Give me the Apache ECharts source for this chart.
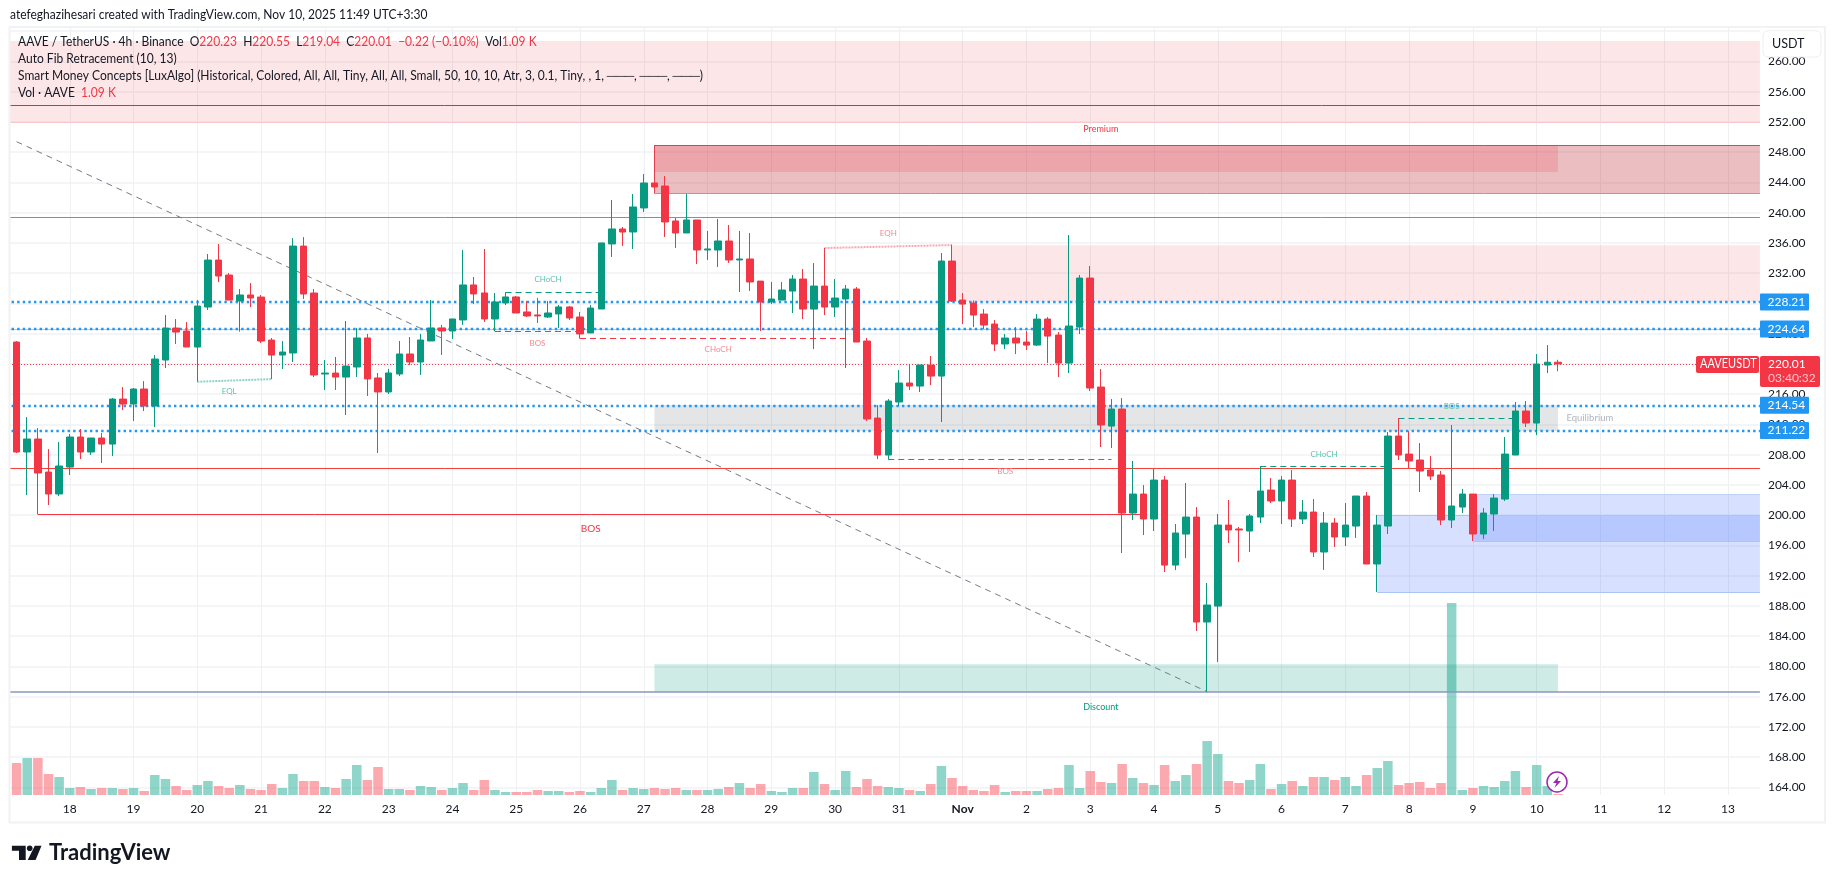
<!DOCTYPE html>
<html><head><meta charset="utf-8">
<style>html,body{margin:0;padding:0;background:#fff}#c{width:1835px;height:883px}</style>
<script src="https://cdn.jsdelivr.net/npm/echarts@6/dist/echarts.min.js"></script>
</head><body><div id="c"></div>
<script>
const dayLabels=['17','18','19','20','21','22','23','24','25','26','27','28','29','30','31','Nov','2','3','4','5','6','7','8','9','10','11','12','13'];
const opens=[222.90,208.36,210.08,205.71,202.81,206.37,210.34,208.36,210.21,209.41,215.36,214.70,216.69,214.44,220.52,224.75,224.35,222.24,227.53,233.74,231.76,228.32,229.12,228.85,223.16,221.18,221.45,235.59,229.38,218.67,218.80,218.27,219.60,223.44,218.15,216.30,218.68,221.32,220.26,223.04,224.76,224.36,225.82,230.45,229.39,225.95,228.07,228.86,226.88,226.48,226.21,226.61,227.54,226.21,224.10,227.27,235.87,237.85,237.45,240.63,243.93,243.53,238.91,237.32,239.04,235.07,235.07,236.26,233.75,233.88,230.96,228.19,228.45,229.64,231.23,227.26,230.30,227.53,228.59,229.91,223.03,212.85,207.96,214.97,217.48,217.08,219.86,218.40,233.61,228.45,228.06,226.60,225.28,222.64,223.43,222.90,222.50,225.94,223.82,220.12,224.88,231.36,216.95,211.79,214.04,200.29,202.80,199.50,204.65,193.41,197.51,199.76,185.88,187.99,198.70,198.18,197.91,199.76,203.33,201.88,204.65,199.50,200.42,195.14,198.97,197.12,198.57,202.54,193.55,198.57,210.47,208.09,207.30,205.98,205.32,199.37,201.08,202.80,197.52,200.16,202.14,207.96,213.78,212.19,219.86,220.23];
const closes=[208.36,210.08,205.58,202.81,206.51,210.34,208.36,210.21,209.41,215.36,214.70,216.69,214.44,220.65,224.75,224.22,222.24,227.66,233.74,231.63,228.45,229.12,228.72,223.03,221.18,221.58,235.59,229.25,218.54,218.80,218.27,219.73,223.44,218.02,216.30,218.81,221.32,220.26,223.17,224.76,224.36,225.95,230.45,229.26,225.95,228.20,228.86,226.74,226.35,226.35,226.74,227.54,226.08,223.97,227.40,236.00,237.85,237.45,240.76,243.93,243.40,238.78,237.32,239.04,235.07,235.21,236.26,233.75,233.88,230.84,228.19,228.59,229.78,231.23,227.26,230.30,227.53,228.72,229.91,222.90,212.72,207.96,215.10,217.48,217.08,219.86,218.40,233.61,228.32,227.92,226.47,225.15,222.64,223.43,222.77,222.50,225.94,223.69,220.12,225.02,231.36,216.82,211.93,214.04,200.29,202.80,199.50,204.65,193.41,197.65,199.76,185.88,188.13,198.70,198.05,198.05,199.90,203.20,201.88,204.65,199.50,200.42,195.14,198.97,197.12,198.70,202.54,193.55,198.70,210.47,207.96,207.17,205.85,205.18,199.37,201.22,202.80,197.52,200.29,202.27,208.09,213.78,212.19,219.99,220.23,220.01];
const highs=[223.03,212.98,211.53,208.75,209.68,210.74,211.40,210.21,210.87,215.50,216.95,216.82,217.74,221.18,226.47,225.94,225.54,228.45,234.54,235.86,232.02,229.91,230.70,229.12,223.43,223.03,236.65,236.78,229.91,220.52,220.92,225.68,224.76,223.97,218.81,219.34,223.04,223.57,223.97,228.46,225.16,225.95,235.07,231.50,235.20,229.39,229.48,228.99,228.33,228.73,228.33,227.80,227.67,226.88,227.80,236.00,241.68,238.11,242.48,245.12,244.10,244.86,239.30,242.48,239.04,237.59,239.17,238.38,237.59,237.32,230.96,230.83,230.83,231.76,232.55,233.34,235.33,231.23,230.44,230.17,223.43,214.57,215.36,219.20,219.86,219.86,221.05,234.67,235.72,229.38,228.40,227.26,225.81,223.96,224.88,224.36,226.60,226.20,224.22,237.05,231.76,232.95,219.33,215.36,215.49,207.17,203.99,206.11,205.18,198.84,204.26,201.08,191.04,200.16,202.01,198.44,200.16,206.51,204.92,205.18,205.98,202.01,202.14,200.42,199.63,201.61,202.54,203.07,200.03,211.00,212.85,211.13,209.55,207.83,205.85,211.93,203.47,202.80,200.95,202.80,210.34,214.97,215.10,221.31,222.50,220.55];
const lows=[208.22,202.67,200.12,201.35,202.54,205.32,207.43,207.96,206.90,207.83,213.91,212.46,213.78,211.66,219.46,222.64,222.24,217.66,227.13,230.83,228.45,224.27,227.53,222.77,218.01,219.33,220.26,228.59,218.27,216.56,216.56,213.25,218.28,215.77,208.23,216.03,218.41,219.87,218.55,223.04,221.19,223.31,225.16,227.93,225.55,224.32,227.80,226.74,226.21,225.42,226.08,224.76,225.82,223.35,224.10,227.27,234.15,235.60,235.20,240.10,243.20,236.79,235.33,237.32,233.22,233.75,232.83,233.36,229.52,229.65,224.35,227.92,228.45,226.73,225.94,221.97,226.47,226.21,219.46,222.90,212.45,207.43,207.39,214.44,216.55,216.29,217.21,212.32,228.19,225.28,224.88,224.62,221.71,221.97,221.31,221.84,222.37,220.12,218.27,218.80,223.96,216.42,209.02,208.88,195.00,199.36,197.38,197.91,192.49,192.75,194.34,184.69,176.67,180.59,196.33,193.81,195.14,198.97,201.61,198.84,198.44,198.84,194.48,192.76,195.80,195.93,196.99,193.55,189.85,197.52,207.30,206.24,203.07,204.65,198.70,198.31,200.29,196.59,196.85,197.91,201.88,207.96,211.66,210.60,218.80,219.04];
const volumes=[32,37,37,21,18,7,8,6,7,7,6,7,4,20,16,9,5,10,14,9,7,10,6,5,11,7,21,14,14,8,7,16,30,15,28,6,6,5,9,8,5,7,12,5,15,5,3,3,3,5,4,4,3,4,3,7,15,5,7,6,7,6,7,5,5,5,6,8,12,7,11,4,3,7,7,23,11,5,24,8,16,9,8,7,5,4,11,29,17,9,5,4,10,3,4,4,4,6,7,30,7,24,13,12,31,17,12,10,30,14,20,31,54,41,14,12,15,31,6,11,14,9,18,18,15,18,9,20,27,34,10,12,13,7,12,192,5,7,9,8,14,24,8,30,9,1];
const priceTicks={min:164,max:264,step:4};
const fibLevels=[228.21,224.64,214.54,211.22];
const lastPrice=220.01;
const premiumZone=[262.7,252.0];
const supplyZone=[248.95,242.56];
const supplyInner=[248.95,245.38];
const shortZone=[235.7,228.2];
const eqZone=[214.57,211.13];
const discountZone=[180.3,176.67];
const demandZone=[200.03,189.8];
const demandInner=[202.8,196.55];
const notes=[['Premium',103,251.07,'#f23645',9],['Discount',103,174.64,'#089981',9],['Equilibrium',149,212.85,'#b2b5be',9.5],['BOS',55,198.18,'#f23645',10],['EQL',21,216.33,'#5fc2b2',8],['EQH',83,237.32,'#f58a93',8],['CHoCH',51,231.23,'#5fc2b2',8],['BOS',50,222.77,'#f58a93',8],['CHoCH',67,221.98,'#f58a93',8],['BOS',94,205.84,'#f58a93',8],['CHoCH',124,208.09,'#5fc2b2',8],['BOS',136,214.44,'#5fc2b2',8]];
const structure=[[18,217.65,25,218.0,'eql'],[77,235.33,89,235.72,'eqh'],[47,229.48,56,229.48,'up'],[46,224.32,54,224.32,'down'],[54,223.39,79,223.39,'down'],[83,207.39,104,207.39,'down'],[118,206.5,130,206.5,'up'],[131,212.81,142,212.81,'up'],[3,200.14,107,200.14,'solid'],[1,249.39,113,176.67,'fib']];

const UP='#089981',DOWN='#F23645',FONT='Lato, "Open Sans", sans-serif',INK='#131722';
const slots=[];dayLabels.forEach(d=>{for(let h=0;h<6;h++)slots.push(h===0?d:d+'#'+h)});
const categories=slots.slice(0,166);
const candleData=[['-','-','-','-']].concat(opens.map((o,i)=>[o,closes[i],lows[i],highs[i]]));
const volData=['-'].concat(volumes.map((v,i)=>({value:v,itemStyle:{color:closes[i]>=opens[i]?'rgba(34,171,148,0.5)':'rgba(247,82,95,0.5)'}})));
const isDay=i=>i%6===0&&i>0;
const styles={eql:{color:'#8ed2c6',width:2,type:[2,1]},eqh:{color:'#f9a7ae',width:2,type:[2,1]},up:{color:UP,width:1,type:[6,4]},down:{color:DOWN,width:1,type:[6,4]},solid:{color:'#f23645',width:1,type:'solid'},fib:{color:'#787b86',width:1,type:[6,5]}};
const area=(a,b,r,fill)=>[{coord:[a,r[0]],itemStyle:{color:fill,borderWidth:0}},{coord:[b,r[1]]}];
const hline=(y,color,width,type)=>({yAxis:y,lineStyle:{color,width,type:type||'solid'},label:{show:false}});
const seg=(a,p,b,q,color,width)=>[{coord:[a,p],lineStyle:{color,width:width||1,type:'solid'},label:{show:false}},{coord:[b,q]}];

const chart=echarts.init(document.getElementById('c'),null,{renderer:'canvas'});
const G_LEFT=5.97,G_W=1753.95;
const option={
 backgroundColor:'#fff',animation:false,
 grid:[{left:G_LEFT,top:31.2,width:G_W,height:756.3},{left:G_LEFT,top:28,width:G_W,height:767}],
 xAxis:[
  {type:'category',gridIndex:0,data:categories,boundaryGap:false,show:false},
  {type:'category',gridIndex:1,data:categories,boundaryGap:false,axisLine:{show:false},axisTick:{show:false},
   splitLine:{show:true,interval:(i)=>isDay(i),lineStyle:{color:'#eef0f2',width:1}},
   axisLabel:{show:true,interval:(i)=>isDay(i),formatter:v=>v.split('#')[0]==='Nov'?'{b|Nov}':v.split('#')[0],margin:8,color:INK,fontFamily:FONT,fontSize:12,rich:{b:{fontWeight:'bold',fontFamily:FONT,fontSize:12,color:INK}}}}
 ],
 yAxis:[
  {type:'value',gridIndex:0,position:'right',min:priceTicks.min,max:priceTicks.max,interval:priceTicks.step,axisLine:{show:false},axisTick:{show:false},
   splitLine:{show:true,lineStyle:{color:'#f1f2f3',width:1.5}},
   axisLabel:{formatter:v=>v.toFixed(2),margin:8,color:INK,fontFamily:FONT,fontSize:12,align:'left'}},
  {type:'value',gridIndex:1,min:0,max:767,show:false}
 ],
 series:[
  {type:'bar',name:'Vol',xAxisIndex:1,yAxisIndex:1,data:volData,barWidth:9.5,z:1,silent:true},
  {type:'line',name:'overlays',xAxisIndex:0,yAxisIndex:0,data:[],z:2,silent:true,symbol:'none',
   markArea:{silent:true,z:2,data:[
     area(0,165,premiumZone,'rgba(242,54,69,0.125)'),
     area(61,165,supplyZone,'rgba(190,40,51,0.30)'),
     area(61,146,supplyInner,'rgba(242,54,69,0.18)'),
     area(89,165,shortZone,'rgba(242,54,69,0.125)'),
     area(61,146,eqZone,'rgba(120,123,134,0.20)'),
     area(61,146,discountZone,'rgba(8,153,129,0.20)'),
     area(129,165,demandZone,'rgba(41,98,255,0.19)'),
     area(138,165,demandInner,'rgba(41,98,255,0.19)')
   ]},
   markLine:{silent:true,symbol:'none',z:3,animation:false,data:[
     hline(254.2,'#26807a',1),
     hline(239.4,'#5fae62',1),
     hline(224.57,'#a9d6ab',1),
     hline(206.2,'#f44336',1),
     hline(176.62,'#8a96bd',1.5),
     hline(lastPrice,DOWN,1,[1,2]),
     hline(premiumZone[1],'#f6c9cc',1),
     ...fibLevels.map(y=>hline(y,'#2196F3',2.4,[2.4,3.2])),
     seg(61,supplyZone[0],165,supplyZone[0],'#e0414f'),
     seg(61,supplyZone[1],165,supplyZone[1],'#d9868c'),
     seg(61,supplyZone[0],61,supplyZone[1],'#e0414f'),
     seg(129,demandZone[0],165,demandZone[0],'#a9c5f5'),
     seg(129,demandZone[1],165,demandZone[1],'#a9c5f5'),
     seg(138,demandInner[0],165,demandInner[0],'#bcd2f8'),
     seg(138,demandInner[1],165,demandInner[1],'#a9c5f5'),
     ...structure.map(s=>[{coord:[s[0],s[1]],lineStyle:styles[s[4]],label:{show:false}},{coord:[s[2],s[3]]}])
   ]},
   markPoint:{silent:true,z:6,symbol:'circle',symbolSize:0,animation:false,data:notes.map(n=>({coord:[n[1],n[2]],label:{show:true,position:'inside',formatter:n[0],color:n[3],fontSize:n[4],fontFamily:FONT}}))}
  },
  {type:'candlestick',name:'AAVEUSDT',xAxisIndex:0,yAxisIndex:0,data:candleData,barWidth:7,z:5,silent:true,
   itemStyle:{color:UP,color0:DOWN,borderColor:UP,borderColor0:DOWN,borderWidth:1}}
 ]
};
chart.setOption(option);

const yOf=p=>chart.convertToPixel({yAxisIndex:0},p);
const T=(x,y,text,o,sx)=>({type:'text',x,y,z:120,scaleX:sx||1,style:Object.assign({text,fill:INK,font:'13px '+FONT,textVerticalAlign:'middle'},o||{})});
const R=(x,y,w,h,fill,r,stroke,z)=>({type:'rect',z:z||110,shape:{x,y,width:w,height:h,r:r||0},style:{fill,stroke:stroke||null,lineWidth:stroke?1:0}});
const HS=0.925;
const gfx=[
 R(0,0,9,883,'#fff',0,null,100),
 R(1762,18,60,14,'#fff',0,null,100),
 {type:'rect',z:105,shape:{x:9.5,y:27,width:1815.5,height:795.5},style:{fill:null,stroke:'#f1f2f4',lineWidth:2}},
 T(10,15,'atefeghazihesari created with TradingView.com, Nov 10, 2025 11:49 UTC+3:30',null,HS),
 {type:'text',x:18,y:41.7,z:120,scaleX:HS,style:{text:'AAVE / TetherUS · 4h · Binance  O{r|220.23}  H{r|220.55}  L{r|219.04}  C{r|220.01}  {r|−0.22 (−0.10%)}  Vol{r|1.09 K}',fill:INK,font:'13px '+FONT,textVerticalAlign:'middle',rich:{r:{fill:DOWN,font:'13px '+FONT}}}},
 T(18,59,'Auto Fib Retracement (10, 13)',null,HS),
 T(18,76,'Smart Money Concepts [LuxAlgo] (Historical, Colored, All, All, Tiny, All, All, Small, 50, 10, 10, Atr, 3, 0.1, Tiny, , 1, ───, ───, ───)',null,HS),
 {type:'text',x:18,y:92.7,z:120,scaleX:HS,style:{text:'Vol · AAVE  {r|1.09 K}',fill:INK,font:'13px '+FONT,textVerticalAlign:'middle',rich:{r:{fill:DOWN,font:'13px '+FONT}}}},
 R(1763,30.7,58,26.3,'#fff',5,'#eeeff1'),
 T(1772,44,'USDT',{font:'12.5px '+FONT}),
 {type:'circle',z:120,shape:{cx:1557,cy:782,r:10},style:{fill:'#fff',stroke:'#9c27b0',lineWidth:1.5}},
 {type:'polygon',z:121,shape:{points:[[1559,776],[1553,783],[1556.5,783],[1554.5,788],[1561,781],[1557.5,781]]},style:{fill:'#9c27b0'}},
 {type:'polygon',z:120,shape:{points:[[11.9,845.7],[25.7,845.7],[25.7,860],[19,860],[19,850.7],[11.9,850.7]]},style:{fill:INK}},
 {type:'circle',z:120,shape:{cx:29.7,cy:848.2,r:2.8},style:{fill:INK}},
 {type:'polygon',z:120,shape:{points:[[34.8,845.7],[41.5,845.7],[35.6,860],[27.7,860]]},style:{fill:INK}},
 T(49,853,'TradingView',{font:'bold 22px '+FONT})
];
fibLevels.forEach(p=>{const y=yOf(p);gfx.push(R(1760,y-8.5,49,17,'#2196F3',1));gfx.push(T(1767.5,y,p.toFixed(2),{fill:'#fff',font:'12px '+FONT}));});
{const y=yOf(lastPrice);
 gfx.push(R(1760,y-8,60,31,DOWN,2));
 gfx.push(T(1768,y,lastPrice.toFixed(2),{fill:'#fff',font:'12px '+FONT}));
 gfx.push(T(1768,y+14.5,'03:40:32',{fill:'#fbc5ca',font:'12px '+FONT}));
 gfx.push(R(1696,y-8,63,17,DOWN,2));
 gfx.push(T(1700,y,'AAVEUSDT',{fill:'#fff',font:'12.5px '+FONT},0.88));}
chart.setOption({graphic:{elements:gfx}});
</script></body></html>
